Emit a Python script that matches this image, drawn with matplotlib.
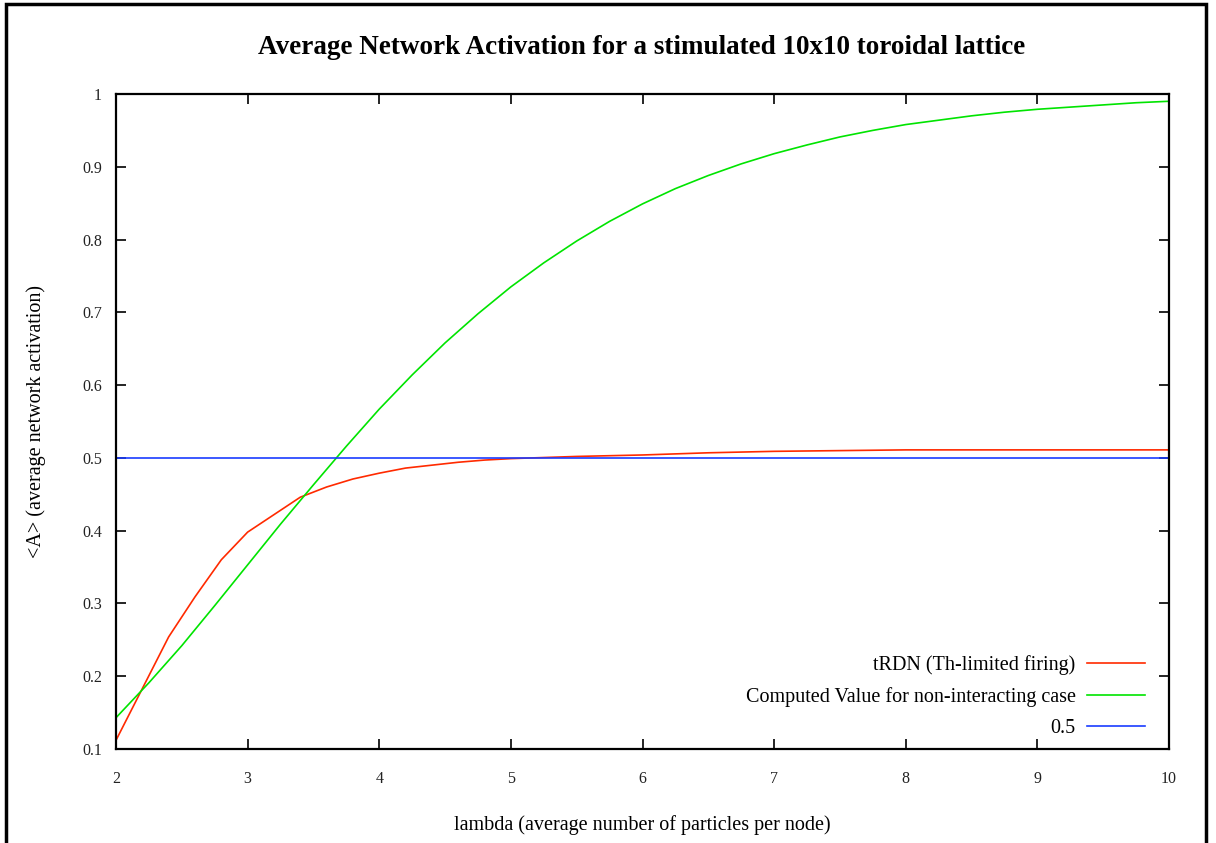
#!/usr/bin/env python3
import matplotlib
matplotlib.use("Agg")
import matplotlib.pyplot as plt
from matplotlib.patches import Rectangle

# tRDN (Th-limited firing)
lam_red = [2.0, 2.4, 2.6, 2.8, 3.0, 3.2, 3.4, 3.6, 3.8, 4.0, 4.2, 4.4, 4.6, 4.8,
           5.0, 5.5, 6.0, 6.5, 7.0, 8.0, 9.0, 10.0]
act_red = [0.112, 0.254, 0.309, 0.360, 0.398, 0.422, 0.446, 0.460, 0.471, 0.479,
           0.486, 0.490, 0.494, 0.497, 0.499, 0.502, 0.504, 0.507, 0.509, 0.511,
           0.511, 0.511]

# computed value for the non-interacting case
lam_green = [2.0, 2.25, 2.5, 2.75, 3.0, 3.25, 3.5, 3.75, 4.0, 4.25, 4.5, 4.75, 5.0,
             5.25, 5.5, 5.75, 6.0, 6.25, 6.5, 6.75, 7.0, 7.25, 7.5, 7.75, 8.0,
             8.25, 8.5, 8.75, 9.0, 9.25, 9.5, 9.75, 10.0]
act_green = [0.143, 0.191, 0.242, 0.297, 0.353, 0.409, 0.463, 0.516, 0.567, 0.614,
             0.658, 0.698, 0.735, 0.768, 0.798, 0.825, 0.849, 0.870, 0.888, 0.904,
             0.918, 0.930, 0.941, 0.950, 0.958, 0.964, 0.970, 0.975, 0.979, 0.982,
             0.985, 0.988, 0.990]

lam_blue = [2.0, 10.0]
act_blue = [0.5, 0.5]

labels = ["tRDN (Th-limited firing)", "Computed Value for non-interacting case", "0.5"]
colors = ["#ff2a00", "#00e400", "#1a3cff"]

x_ticks = [2, 3, 4, 5, 6, 7, 8, 9, 10]
y_ticks = [0.1, 0.2, 0.3, 0.4, 0.5, 0.6, 0.7, 0.8, 0.9, 1.0]
y_tick_labels = ["0.1", "0.2", "0.3", "0.4", "0.5", "0.6", "0.7", "0.8", "0.9", "1"]


def main():
    plt.rcParams["font.family"] = ["Liberation Serif", "DejaVu Serif"]
    fig = plt.figure(figsize=(12.16, 8.43), dpi=100)
    ax = fig.add_axes([116 / 1216, 1 - 749 / 843, (1169 - 116) / 1216, (749 - 94) / 843])

    ax.plot(lam_red, act_red, color=colors[0], linewidth=1.2, label=labels[0])
    ax.plot(lam_green, act_green, color=colors[1], linewidth=1.2, label=labels[1])
    ax.plot(lam_blue, act_blue, color=colors[2], linewidth=1.2, label=labels[2])

    ax.set_xlim(2, 10)
    ax.set_ylim(0.1, 1.0)
    ax.set_xticks(x_ticks)
    ax.set_yticks(y_ticks)
    ax.set_yticklabels(y_tick_labels)
    ax.tick_params(direction="in", length=7, width=1.2, top=True, right=True,
                   labelsize=11.5, color="black", labelcolor="#222222")
    ax.tick_params(axis="x", pad=16)
    ax.tick_params(axis="y", pad=10)
    for s in ax.spines.values():
        s.set_linewidth(1.6)

    ax.set_xlabel("lambda (average number of particles per node)", fontsize=14.5, labelpad=20)
    ax.set_ylabel("<A> (average network activation)", fontsize=14.5, labelpad=26)
    fig.text(642 / 1216, 1 - 48 / 843, "Average Network Activation for a stimulated 10x10 toroidal lattice",
             ha="center", va="center", fontsize=19.5, fontweight="bold")

    ax.legend(loc="lower right", bbox_to_anchor=(1 - 24 / 1053, 11 / 655), frameon=False,
              markerfirst=False, fontsize=14.5, handlelength=2.9, handletextpad=0.55,
              labelspacing=0.6, borderpad=0, borderaxespad=0)

    fig.patches.append(Rectangle((6 / 1216, -0.02), (1206 - 6) / 1216, 1.02 - 4 / 843,
                                 transform=fig.transFigure, fill=False,
                                 edgecolor="black", linewidth=2.5))

    fig.savefig("out.png", dpi=100)


if __name__ == "__main__":
    main()
